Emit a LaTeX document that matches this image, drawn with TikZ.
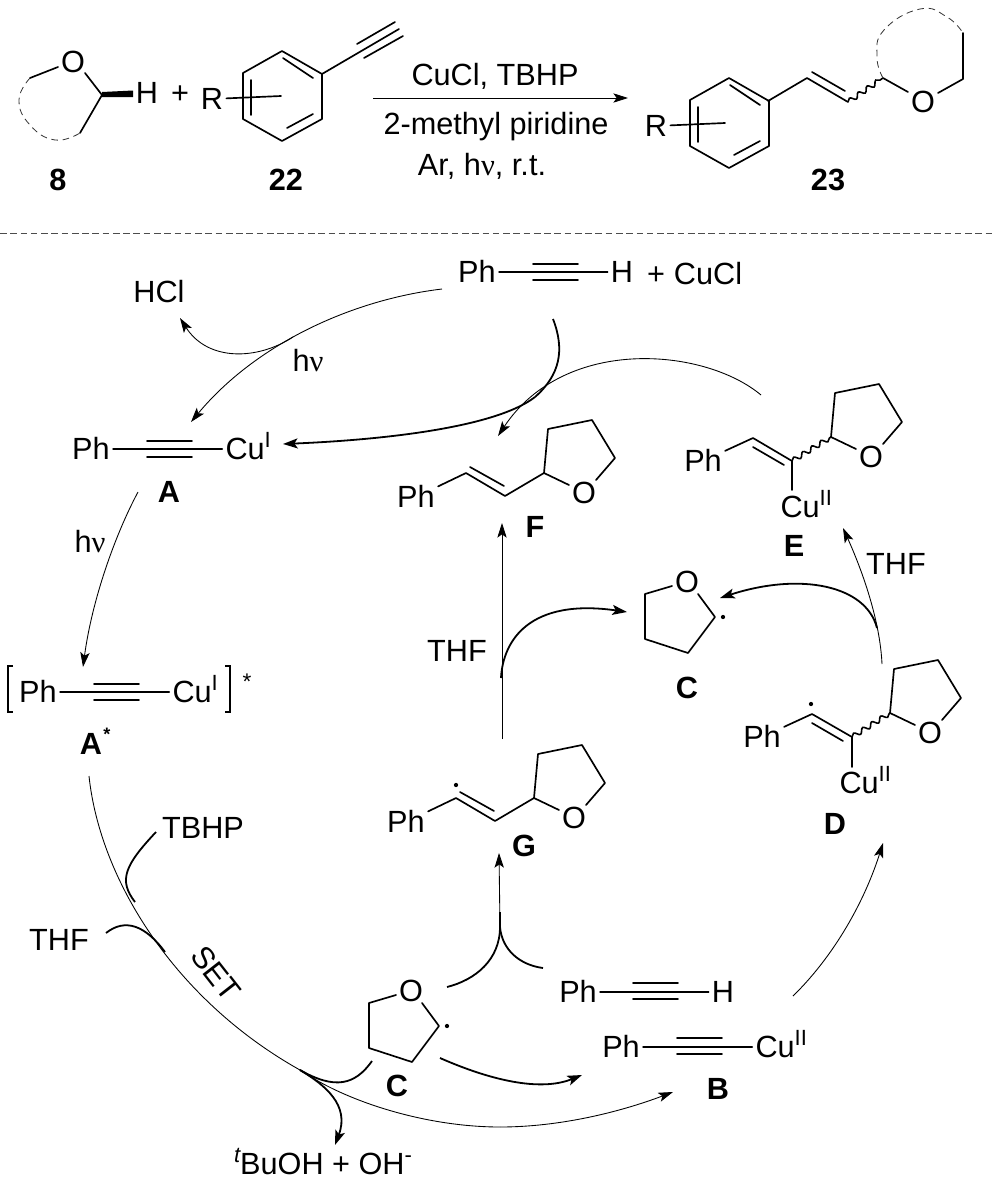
\documentclass[tikz,border=0pt]{standalone}
\usepackage{fontspec}
\setmainfont{Liberation Sans}
\newfontfamily\grk{Liberation Serif}
\usetikzlibrary{arrows.meta,decorations.pathmorphing}
\tikzset{
  lab/.style={inner sep=0pt,outer sep=2.5pt,text height=16pt,text depth=0pt,font=\fontsize{23}{25}\selectfont},
  cmpd/.style={lab,font=\fontsize{23}{25}\selectfont\bfseries},
  cu/.style={lab,anchor=west,xshift=-17.1pt},
  star/.style={inner sep=0pt,anchor=base},
  bond/.style={line width=1.25pt,line join=round,line cap=round},
  thin arrow/.style={line width=.65pt,-{Stealth[length=11pt,width=7pt,inset=2.5pt]},black},
  thin line/.style={line width=.65pt,black},
  thick arrow/.style={line width=1.35pt,-{Stealth[length=11pt,width=7.5pt,inset=2.5pt]}},
  thick line/.style={line width=1.35pt},
  dash ring/.style={line width=.6pt,dash pattern=on 5pt off 3.5pt,black!80},
  wavy/.style={line width=1.2pt,decorate,decoration={snake,segment length=8pt,amplitude=1.8pt}},
  dot/.style={fill,circle,inner sep=0pt,minimum size=3.2pt}
}
\newcommand{\hnu}{h{\grk ν}}
\newcommand{\cuup}[1]{Cu\raisebox{9pt}{\fontsize{16.5}{16.5}\selectfont #1}}
% alkyne triple outer lines
\newcommand{\triplelines}[3]{\draw[bond] (#1,#3-8) -- (#2,#3-8) (#1,#3+8) -- (#2,#3+8);}
% tetrahydrofuran ring hung on its C2 carbon
\newcommand{\thfring}[3]{\begin{scope}[shift={(#2,#3)}]
  \node[lab] (#1O) at (40,20) {O};
  \draw[bond] (25,12) -- (0,0) -- (4,-44) -- (48,-53) -- (71,-15) -- (52,7);
\end{scope}}
% radical ring, given by its O
\newcommand{\radring}[3]{\begin{scope}[shift={(#2,#3)}]
  \node[lab] (#1O) at (0,0) {O};
  \draw[bond] (-15,4) -- (-42,12) -- (-42,57) -- (1,71) -- (28,35) -- (11,12);
  \node[dot] (#1dot) at (36,35) {};
\end{scope}}
% substituted benzene, given by its top vertex
\newcommand{\benz}[3]{\begin{scope}[shift={(#2,#3)}]
  \draw[bond] (0,0) -- (40,23) -- (40,68) -- (0,90) -- (-39,68) -- (-39,22) -- cycle;
  \draw[bond] (1,7) -- (31,27) (5,77) -- (31,63) (-31,29) -- (-31,64);
\end{scope}}
\begin{document}
\begin{tikzpicture}[x=.75pt,y=-.75pt]
\useasboundingbox (0,0) rectangle (993,1193);
\fill[white] (0,0) rectangle (993,1193);

% ---------- top: compound 8
\node[lab] (o8) at (73,62) {O};
\node[lab] (h8) at (147,93) {H};
\draw[bond] (85,73) -- (102,95) -- (80,133);
\draw[bond] (58,67) -- (30,78);
\fill (102,92) -- (133,90.5) -- (133,97) -- (102,97) -- cycle;
\draw[dash ring] plot[smooth,tension=.8] coordinates {(30,78) (19,100) (30,125) (55,140) (80,133)};
\node[lab] (plus1) at (180,93) {+};
\node[cmpd] (n8) at (58,180) {8};

% compound 22
\benz{b22}{282}{51}
\node[lab] (r22) at (212,99) {R};
\coordinate (r22end) at (281,96);
\draw[bond] (r22) -- (r22end);
\coordinate (tri22) at (399,29);
\draw[bond] (322,74) -- (tri22) (357,44) -- (395,22) (364,58) -- (403,36);
\node[cmpd] (n22) at (286,180) {22};

% conditions
\coordinate (rxa) at (373,98);
\coordinate (rxb) at (628,98);
\draw[thin arrow] (rxa) -- (rxb);
\node[lab] (cond1) at (495,75) {CuCl, TBHP};
\node[lab] (cond2) at (496,124) {2-methyl piridine};
\node[lab] (cond3) at (482,165) {Ar, \hnu, r.t.};

% compound 23
\benz{b23}{729}{78}
\node[lab] (r23) at (656,126) {R};
\coordinate (r23end) at (725,123);
\draw[bond] (r23) -- (r23end);
\draw[bond] (768,101) -- (807,78) -- (848,102) (812,72) -- (845,91);
\draw[wavy] (848,102) -- (883,78);
\node[lab] (o23) at (923,102) {O};
\draw[bond] (883,78) -- (908,92) (938,93) -- (963,79) -- (963,33);
\draw[dash ring] plot[smooth,tension=.8] coordinates {(883,78) (877,57) (884,30) (920,9) (947,17) (963,33)};
\node[cmpd] (n23) at (828,180) {23};

% separator
\coordinate (sepa) at (0,233);
\coordinate (sepb) at (993,233);
\draw[line width=.6pt,dash pattern=on 5pt off 2.7pt,black!70] (sepa) -- (sepb);

% ---------- Ph-C#C-H + CuCl
\node[lab] (ph0) at (477,272) {Ph};
\node[lab] (h0) at (622,272) {H};
\draw[bond] (ph0) -- (h0);
\triplelines{533}{578}{272}
\node[lab] (plus0) at (656,274) {+};
\node[lab] (cucl) at (708,274) {CuCl};

\node[lab] (hcl) at (159,292) {HCl};
\node[lab] (hv1) at (308,361) {\hnu};

% A
\node[lab] (phA) at (91,449) {Ph};
\node[cu] (cuA) at (245,449) {\cuup{I}};
\draw[bond] (phA) -- (cuA);
\triplelines{147}{192}{449}
\node[cmpd] (nA) at (169,492) {A};

% A*
\node[lab] (hv2) at (90,542) {\hnu};
\node[lab] (phAs) at (38,692) {Ph};
\node[cu] (cuAs) at (192,692) {\cuup{I}};
\draw[bond] (phAs) -- (cuAs);
\triplelines{94}{139}{692}
\draw[line width=.9pt] (13,666) -- (8,666) -- (8,712) -- (13,712);
\draw[line width=.9pt] (225,666) -- (230,666) -- (230,712) -- (225,712);
\node[star,font=\fontsize{17}{17}\selectfont] (starAs) at (247,689) {*};
\node[cmpd] (nAs) at (91,744) {A};
\node[star,font=\fontsize{13.5}{14}\selectfont\bfseries] (starnAs) at (107,740.5) {*};

% F
\node[lab] (phF) at (416,497) {Ph};
\coordinate (F1) at (466,473);
\coordinate (F2) at (505,496);
\draw[bond] (phF) -- (F1) -- (F2) -- (544,473);
\draw[bond] (470,467) -- (504,486);
\thfring{F}{544}{473}
\node[cmpd] (nF) at (535,527) {F};

% E
\node[lab] (phE) at (703,461) {Ph};
\coordinate (E1) at (753,438);
\coordinate (E2) at (792,461);
\draw[bond] (phE) -- (E1) -- (E2);
\draw[bond] (753,447) -- (784,465);
\draw[wavy] (E2) -- (831,437);
\thfring{E}{831}{437}
\node[cu] (cuE) at (800,507) {\cuup{II}};
\draw[bond] (E2) -- (792,490);
\node[cmpd] (nE) at (794,546) {E};

% D
\node[lab] (phD) at (762,737) {Ph};
\coordinate (D1) at (812,714);
\coordinate (D2) at (852,737);
\draw[bond] (phD) -- (D1) -- (D2);
\draw[bond] (812,723) -- (843,741);
\node[dot] (dotD) at (811,704) {};
\draw[wavy] (D2) -- (890,713);
\thfring{D}{890}{713}
\node[cu] (cuD) at (859,783) {\cuup{II}};
\draw[bond] (D2) -- (852,767);
\node[cmpd] (nD) at (835,824) {D};

% G
\node[lab] (phG) at (406,822) {Ph};
\coordinate (G1) at (456,798);
\coordinate (G2) at (495,821);
\draw[bond] (phG) -- (G1) -- (G2) -- (534,798);
\draw[bond] (460,792) -- (494,811);
\node[dot] (dotG) at (456,785) {};
\thfring{G}{534}{798}
\node[cmpd] (nG) at (524,846) {G};

% C (middle)
\radring{Cm}{687}{582}
\node[cmpd] (nCm) at (687,688) {C};
\node[lab] (thfF) at (457,651) {THF};
\node[lab] (thfE) at (896,564) {THF};

% left reagents
\node[lab] (tbhp) at (203,828) {TBHP};
\node[lab] (thfL) at (59,940) {THF};
\node[lab,rotate=-52] (set) at (216,973) {SET};

% C (lower)
\radring{Cl}{411}{991}
\node[cmpd] (nCl) at (397,1086) {C};

% bottom alkyne and B
\node[lab] (phH) at (578,992) {Ph};
\node[lab] (hH) at (723,992) {H};
\draw[bond] (phH) -- (hH);
\triplelines{633}{678}{991}
\node[lab] (phB) at (621,1047) {Ph};
\node[cu] (cuB) at (775,1047) {\cuup{II}};
\draw[bond] (phB) -- (cuB);
\triplelines{677}{722}{1046}
\node[cmpd] (nB) at (718,1089) {B};

\node[lab] (prod) at (323,1164) {\raisebox{9pt}{\fontsize{16.5}{16.5}\selectfont\itshape t}BuOH + OH\raisebox{9pt}{\fontsize{16.5}{16.5}\selectfont -}};

% ---------- connectors (free ends are named coordinates)
\coordinate (a0) at (442,289);
\coordinate (aA) at (191,422);
\coordinate (aB) at (293,337);
\coordinate (aH) at (180,318);
\draw[thin arrow] (a0) .. controls (350,300) and (255,345) .. (aA);
\draw[thin arrow] (aB) .. controls (258,360) and (208,362) .. (aH);

\coordinate (t0) at (553,319);
\coordinate (t1) at (535,397);
\coordinate (t2) at (283,444);
\draw[thick line] (t0) .. controls (565,350) and (560,375) .. (t1);
\draw[thick arrow] (t1) .. controls (495,428) and (380,440) .. (t2);

\coordinate (e0) at (761,395);
\coordinate (eF) at (498,436);
\draw[thin arrow] (e0) .. controls (705,348) and (565,335) .. (eF);

\coordinate (as0) at (138,492);
\coordinate (as1) at (83,667);
\draw[thin arrow] (as0) .. controls (115,535) and (92,600) .. (as1);

\coordinate (s0) at (89,776);
\coordinate (s1) at (300,1070);
\coordinate (s2) at (500,1127);
\coordinate (s3) at (673,1092);
\draw[thin line] (s0) .. controls (100,880) and (175,1000) .. (s1);
\draw[thin line] (s1) .. controls (350,1104) and (430,1127) .. (s2);
\draw[thin arrow] (s2) .. controls (560,1127) and (620,1112) .. (s3);

\coordinate (tb0) at (156,832);
\coordinate (tb1) at (135,902);
\draw[thick line] (tb0) .. controls (125,865) and (118,880) .. (tb1);
\coordinate (th0) at (106,933);
\coordinate (th1) at (165,952);
\draw[thick line] (th0) .. controls (125,918) and (145,925) .. (th1);

\coordinate (c0) at (372,1061);
\draw[thick line] (c0) .. controls (355,1085) and (335,1090) .. (s1);
\coordinate (bu) at (335,1145);
\draw[thick arrow] (s1) .. controls (325,1085) and (350,1105) .. (bu);

\coordinate (b0) at (440,1058);
\coordinate (b1) at (582,1075);
\draw[thick arrow] (b0) .. controls (490,1080) and (540,1092) .. (b1);

\coordinate (y0) at (447,987);
\coordinate (y1) at (543,968);
\coordinate (yc) at (500,927);
\coordinate (yt) at (500,912);
\coordinate (yG) at (499,853);
\draw[thick line] (y0) .. controls (475,980) and (500,960) .. (yc) -- (yt);
\draw[thick line] (y1) .. controls (520,965) and (502,950) .. (yc);
\draw[thin arrow] (yc) -- (yG);

\coordinate (d0) at (793,996);
\coordinate (dD) at (883,843);
\draw[thin arrow] (d0) .. controls (835,955) and (865,900) .. (dD);

\coordinate (de0) at (882,664);
\coordinate (de1) at (843,528);
\draw[thin arrow] (de0) .. controls (880,620) and (862,570) .. (de1);
\coordinate (dc0) at (877,628);
\coordinate (dc1) at (720,598);
\draw[thick arrow] (dc0) .. controls (866,585) and (800,572) .. (dc1);

\coordinate (f0) at (502,739);
\coordinate (f1) at (502,523);
\draw[thin arrow] (f0) -- (f1);
\coordinate (g0) at (501,678);
\coordinate (g1) at (627,612);
\draw[thick arrow] (g0) .. controls (503,640) and (530,598) .. (g1);
\end{tikzpicture}
\end{document}
